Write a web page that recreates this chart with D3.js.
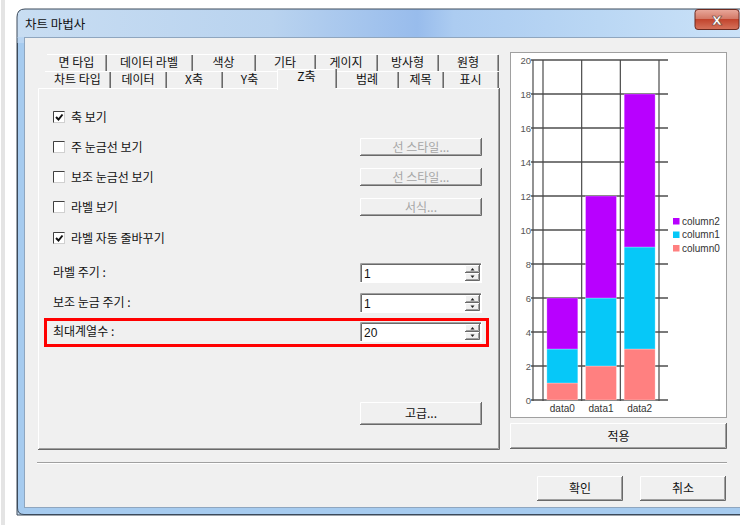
<!DOCTYPE html>
<html><head><meta charset="utf-8">
<script src="https://cdn.jsdelivr.net/npm/d3@7"></script>
<style>
html,body{margin:0;padding:0;background:#fff;}
svg{display:block;}
text{font-family:"Noto Sans CJK KR","Noto Sans",sans-serif;}
</style></head>
<body>
<script>
// ---- data ----
const categories = ["data0", "data1", "data2"];
const seriesNames = ["column0", "column1", "column2"];
const column0 = [1, 2, 3];
const column1 = [2, 4, 6];
const column2 = [3, 6, 9];
const yTicks = [0, 2, 4, 6, 8, 10, 12, 14, 16, 18, 20];
const seriesColors = ["#ff8080", "#06c8f8", "#b800ff"];
const tabsRow1 = ["면 타입", "데이터 라벨", "색상", "기타", "게이지", "방사형", "원형"];
const tabsRow2 = ["차트 타입", "데이터", "X축", "Y축", "Z축", "범례", "제목", "표시"];
const checkLabels = ["축 보기", "주 눈금선 보기", "보조 눈금선 보기", "라벨 보기", "라벨 자동 줄바꾸기"];
const checkStates = [true, false, false, false, true];
const sideButtons = ["선 스타일...", "선 스타일...", "서식..."];
const spinLabels = ["라벨 주기 :", "보조 눈금 주기 :", "최대계열수 :"];
const spinValues = ["1", "1", "20"];

const W = 740, H = 525;
const svg = d3.select("body").append("svg").attr("width", W).attr("height", H);
const defs = svg.append("defs");

// page left strip
svg.append("rect").attr("x", 1).attr("y", 0).attr("width", 4).attr("height", H).attr("fill", "#e4e4e4");

// window frame
const tg = defs.append("linearGradient").attr("id", "titleg").attr("x1", 0).attr("x2", 1).attr("y1", 0).attr("y2", 0);
[[0, "#c8ddf2"], [0.35, "#b9d3ef"], [0.55, "#98bcec"], [0.6, "#acccf1"], [0.8, "#bad7f4"], [1, "#cbe2f8"]]
  .forEach(s => tg.append("stop").attr("offset", s[0]).attr("stop-color", s[1]));
svg.append("path")
  .attr("d", "M17,515 L17,17 Q17,9 25,9 L745,9 L745,515 Z")
  .attr("fill", "url(#titleg)").attr("stroke", "#3c4a5a").attr("stroke-width", 1);
svg.append("path")
  .attr("d", "M17.5,38 L17.5,508 Q17.5,514.5 24,514.5 L745,514.5 L745,38 Z")
  .attr("fill", "#a6cbef").attr("stroke", "#3c4a5a").attr("stroke-width", 1);
svg.append("rect").attr("x", 17.5).attr("y", 37).attr("width", 730).attr("height", 6).attr("fill", "#b9d5f2");
svg.append("rect").attr("x", 24.5).attr("y", 37.5).attr("width", 720).attr("height", 470)
  .attr("fill", "#f0f0f0").attr("stroke", "#8fa6bf").attr("stroke-width", 1);

svg.append("text").attr("x", 25).attr("y", 29).attr("font-size", 12.5).attr("fill", "#111").text("차트 마법사");

// close button
const cg = defs.append("linearGradient").attr("id", "closeg").attr("x1", 0).attr("x2", 0).attr("y1", 0).attr("y2", 1);
[[0, "#e9a99c"], [0.45, "#d47a68"], [0.5, "#c2452e"], [1, "#d6735c"]]
  .forEach(s => cg.append("stop").attr("offset", s[0]).attr("stop-color", s[1]));
svg.append("rect").attr("x", 695).attr("y", 9.5).attr("width", 44).attr("height", 20).attr("rx", 3)
  .attr("fill", "url(#closeg)").attr("stroke", "#6b2a20");
svg.append("text").attr("x", 717).attr("y", 24.5).attr("text-anchor", "middle").attr("font-size", 16)
  .attr("font-weight", "bold").attr("fill", "#fff").attr("stroke", "#6a3b33").attr("stroke-width", 0.6)
  .style("font-family", "DejaVu Sans").text("x");

function frame(x, y, w, h, raised) {
  const g = svg.append("g");
  const hi = raised ? "#ffffff" : "#a0a0a0";
  const lo = raised ? "#696969" : "#ffffff";
  g.append("path").attr("d", `M${x + 0.5},${y + h} L${x + 0.5},${y + 0.5} L${x + w},${y + 0.5}`).attr("fill", "none").attr("stroke", hi);
  g.append("path").attr("d", `M${x + w - 0.5},${y} L${x + w - 0.5},${y + h - 0.5} L${x},${y + h - 0.5}`).attr("fill", "none").attr("stroke", lo);
  if (raised) {
    g.append("path").attr("d", `M${x + w - 1.5},${y + 1} L${x + w - 1.5},${y + h - 1.5} L${x + 1},${y + h - 1.5}`).attr("fill", "none").attr("stroke", "#a0a0a0");
  } else {
    g.append("path").attr("d", `M${x + 1.5},${y + h - 1} L${x + 1.5},${y + 1.5} L${x + w - 1},${y + 1.5}`).attr("fill", "none").attr("stroke", "#696969");
  }
  return g;
}
function button(x, y, w, h, label, disabled) {
  svg.append("rect").attr("x", x).attr("y", y).attr("width", w).attr("height", h).attr("fill", "#f0f0f0");
  frame(x, y, w, h, true);
  svg.append("text").attr("x", x + w / 2).attr("y", y + h / 2 + 4.5).attr("text-anchor", "middle")
    .attr("font-size", 12).attr("fill", disabled ? "#a6a6a6" : "#111").text(label);
}

// tab panel
frame(38, 88, 462, 362, true);

const sep1 = [47, 106, 192, 255, 315, 377, 438, 498];
const sep2 = [45, 110, 166, 222, 277, 336, 398, 443, 498];
tabsRow1.forEach((t, i) => {
  svg.append("text").attr("x", (sep1[i] + sep1[i + 1]) / 2).attr("y", 66.5).attr("text-anchor", "middle")
    .attr("font-size", 12).attr("fill", "#111").text(t);
});
sep1.forEach((x, i) => {
  if (i === 0) return;
  svg.append("line").attr("x1", x - 0.5).attr("x2", x - 0.5).attr("y1", 55).attr("y2", 71).attr("stroke", "#a0a0a0");
  svg.append("line").attr("x1", x + 0.5).attr("x2", x + 0.5).attr("y1", 55).attr("y2", 71).attr("stroke", "#696969");
});
svg.append("line").attr("x1", 47).attr("x2", 498).attr("y1", 54.5).attr("y2", 54.5).attr("stroke", "#fff");
svg.append("line").attr("x1", 45).attr("x2", 498).attr("y1", 71.5).attr("y2", 71.5).attr("stroke", "#fff");
svg.append("rect").attr("x", 277).attr("y", 69).attr("width", 59).attr("height", 21).attr("fill", "#f0f0f0");
svg.append("path").attr("d", "M277.5,90 L277.5,69.5 L335,69.5").attr("fill", "none").attr("stroke", "#fff");
tabsRow2.forEach((t, i) => {
  const sel = t === "Z축";
  svg.append("text").attr("x", (sep2[i] + sep2[i + 1]) / 2).attr("y", sel ? 81 : 84).attr("text-anchor", "middle")
    .attr("font-size", 12).attr("fill", "#111").text(t);
});
sep2.forEach((x, i) => {
  if (i === 0 || i === 4) return;
  const top = i === 5 ? 69 : 72;
  svg.append("line").attr("x1", x - 0.5).attr("x2", x - 0.5).attr("y1", top).attr("y2", 88).attr("stroke", "#a0a0a0");
  svg.append("line").attr("x1", x + 0.5).attr("x2", x + 0.5).attr("y1", top).attr("y2", 88).attr("stroke", "#696969");
});

// checkboxes
const checkY = [117, 147, 177, 207, 238];
checkLabels.forEach((t, i) => {
  const cy = checkY[i];
  svg.append("rect").attr("x", 53.5).attr("y", cy - 5.5).attr("width", 11).attr("height", 11)
    .attr("fill", "#fff").attr("stroke", "#d0d0d0");
  svg.append("path").attr("d", `M53.5,${cy + 5.5} L53.5,${cy - 5.5} L64.5,${cy - 5.5}`).attr("fill", "none").attr("stroke", "#404040");
  if (checkStates[i]) {
    svg.append("path").attr("d", `M56,${cy} L58.5,${cy + 2.5} L62.5,${cy - 2.5}`).attr("fill", "none")
      .attr("stroke", "#111").attr("stroke-width", 2);
  }
  svg.append("text").attr("x", 71).attr("y", cy + 4.5).attr("font-size", 12).attr("fill", "#111").text(t);
});
const sideY = [138, 168, 198];
sideButtons.forEach((t, i) => button(360, sideY[i], 122, 18, t, true));

// spin boxes
const spinY = [263, 293, 322];
spinLabels.forEach((t, i) => {
  const y = spinY[i];
  svg.append("text").attr("x", 53).attr("y", y + 14).attr("font-size", 12).attr("fill", "#111").text(t);
  svg.append("rect").attr("x", 360).attr("y", y).attr("width", 122).attr("height", 20).attr("fill", "#fff");
  frame(360, y, 122, 20, false);
  svg.append("text").attr("x", 364).attr("y", y + 15).attr("font-size", 12).attr("fill", "#111")
    .style("font-family", "Liberation Sans, Arial").text(spinValues[i]);
  svg.append("rect").attr("x", 465).attr("y", y + 2).attr("width", 15).attr("height", 16).attr("fill", "#f0f0f0");
  frame(465, y + 2, 15, 8, true);
  frame(465, y + 10, 15, 8, true);
  svg.append("path").attr("d", `M470.5,${y + 7.5} L472.5,${y + 5} L474.5,${y + 7.5}Z`).attr("fill", "#222");
  svg.append("path").attr("d", `M470.5,${y + 12.5} L472.5,${y + 15} L474.5,${y + 12.5}Z`).attr("fill", "#222");
});
svg.append("rect").attr("x", 45.5).attr("y", 319.5).attr("width", 442).attr("height", 26)
  .attr("fill", "none").attr("stroke", "#ff0000").attr("stroke-width", 3);

button(360, 402, 122, 23, "고급...", false);

// preview panel
svg.append("rect").attr("x", 510.5).attr("y", 52.5).attr("width", 216).attr("height", 365)
  .attr("fill", "#fff").attr("stroke", "#a0a0a0");

// chart
const yScale = d3.scaleLinear().domain([0, 20]).range([400, 60]);
const xScale = d3.scaleBand().domain(categories).range([543, 659]).paddingInner(0.2).paddingOuter(0.1);
const table = categories.map((c, i) => ({ cat: c, column0: column0[i], column1: column1[i], column2: column2[i] }));
const stacked = d3.stack().keys(seriesNames)(table);
const chart = svg.append("g");

chart.selectAll("line.h").data(yTicks).join("line")
  .attr("x1", 531).attr("x2", 668).attr("y1", d => yScale(d)).attr("y2", d => yScale(d))
  .attr("stroke", "#7a7a7a").attr("stroke-width", 2);
const step = xScale.step();
const bounds = [533].concat(d3.range(categories.length + 1).map(i => xScale.range()[0] + i * step));
chart.selectAll("line.v").data(bounds).join("line")
  .attr("x1", d => d).attr("x2", d => d).attr("y1", yScale(20)).attr("y2", yScale(0) + 1)
  .attr("stroke", "#4a4a4a").attr("stroke-width", 1.2);

stacked.forEach((s, si) => {
  chart.append("g").selectAll("rect").data(s).join("rect")
    .attr("x", d => xScale(d.data.cat))
    .attr("y", d => yScale(d[1]))
    .attr("width", xScale.bandwidth())
    .attr("height", d => yScale(d[0]) - yScale(d[1]))
    .attr("fill", seriesColors[si])
    .attr("stroke", "#fff").attr("stroke-opacity", 0.35).attr("stroke-width", 0.8);
});

chart.selectAll("text.yt").data(yTicks).join("text")
  .attr("x", 531).attr("y", d => yScale(d) + 3.5).attr("text-anchor", "end")
  .attr("font-size", 9.5).attr("fill", "#555").style("font-family", "Liberation Sans, Arial")
  .text(d => d);
chart.selectAll("text.xt").data(categories).join("text")
  .attr("x", d => xScale(d) + xScale.bandwidth() / 2).attr("y", 412).attr("text-anchor", "middle")
  .attr("font-size", 10).attr("fill", "#333").style("font-family", "Liberation Sans, Arial")
  .text(d => d);

const legendOrder = seriesNames.map((n, i) => ({ n, c: seriesColors[i] })).reverse();
const lg = chart.selectAll("g.lg").data(legendOrder).join("g")
  .attr("transform", (d, i) => `translate(673,${218 + i * 13.5})`);
lg.append("rect").attr("width", 6.5).attr("height", 6.5).attr("fill", d => d.c);
lg.append("text").attr("x", 9).attr("y", 6.5).attr("font-size", 10).attr("fill", "#333")
  .style("font-family", "Liberation Sans, Arial").text(d => d.n);

button(510, 423, 217, 26, "적용", false);

svg.append("line").attr("x1", 37).attr("x2", 727).attr("y1", 462.5).attr("y2", 462.5).attr("stroke", "#a0a0a0");
svg.append("line").attr("x1", 37).attr("x2", 727).attr("y1", 463.5).attr("y2", 463.5).attr("stroke", "#fff");

button(537, 476, 86, 25, "확인", false);
button(640, 476, 86, 25, "취소", false);
</script>
</body></html>
